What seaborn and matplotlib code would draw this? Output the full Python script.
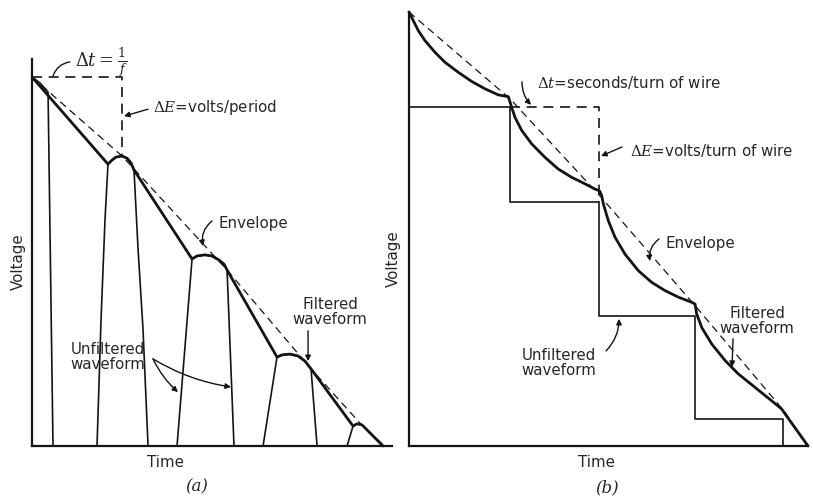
import seaborn as sns
import matplotlib.pyplot as plt

# (a) rectified pulses + capacitor filter; time in periods, voltage relative to peak
filt_a_t = [0.0, 0.844, 0.889, 0.933, 1.0, 1.056, 1.1, 1.133, 1.778, 1.833, 1.922, 2.0, 2.078,
            2.133, 2.167, 2.722, 2.778, 2.867, 2.956, 3.033, 3.1, 3.567, 3.611, 3.667, 3.9]
filt_a_v = [1.0, 0.764, 0.775, 0.783, 0.786, 0.780, 0.767, 0.748, 0.507, 0.515, 0.518, 0.515, 0.504,
            0.493, 0.477, 0.241, 0.247, 0.249, 0.244, 0.230, 0.209, 0.054, 0.060, 0.057, 0.0]
pulses_a_t = [
    [0.0, 0.089, 0.178, 0.233],
    [0.722, 0.767, 0.811, 0.844, 0.889, 0.933, 1.0, 1.056, 1.1, 1.133, 1.178, 1.233, 1.289],
    [1.611, 1.778, 1.833, 1.922, 2.0, 2.078, 2.133, 2.167, 2.244],
    [2.567, 2.722, 2.778, 2.867, 2.956, 3.033, 3.1, 3.167],
    [3.5, 3.567, 3.611, 3.667, 3.9],
]
pulses_a_v = [
    [1.0, 0.984, 0.959, 0.0],
    [0.0, 0.344, 0.615, 0.764, 0.775, 0.783, 0.786, 0.780, 0.767, 0.748, 0.534, 0.317, 0.0],
    [0.0, 0.507, 0.515, 0.518, 0.515, 0.504, 0.493, 0.477, 0.0],
    [0.0, 0.241, 0.247, 0.249, 0.244, 0.230, 0.209, 0.0],
    [0.0, 0.054, 0.060, 0.057, 0.0],
]
env_a_t = [0.0, 1.0, 2.167, 3.1, 3.644, 3.911]
env_a_v = [1.0, 0.786, 0.477, 0.209, 0.062, 0.0]
dt_a_t = [0.0, 1.0, 1.0]
dt_a_v = [1.0, 1.0, 0.786]

# (b) stepped (turn-by-turn) waveform; time in step units, voltage relative to peak
steps_b_t = [0.0, 1.01, 1.01, 1.90, 1.90, 2.86, 2.86, 3.74, 3.74]
steps_b_v = [0.781, 0.781, 0.562, 0.562, 0.300, 0.300, 0.062, 0.062, 0.0]
filt_b_t = [0.0, 0.043, 0.093, 0.16, 0.26, 0.36, 0.493, 0.627, 0.76, 0.893, 0.993,
            1.027, 1.06, 1.127, 1.227, 1.36, 1.493, 1.627, 1.76, 1.86, 1.905,
            1.927, 1.943, 1.993, 2.06, 2.16, 2.293, 2.427, 2.56, 2.693, 2.827, 2.86,
            2.877, 2.927, 3.027, 3.16, 3.293, 3.46, 3.627, 3.727, 3.76, 3.99]
filt_b_v = [1.0, 0.980, 0.957, 0.934, 0.907, 0.884, 0.861, 0.840, 0.823, 0.809, 0.805,
            0.780, 0.757, 0.727, 0.696, 0.665, 0.638, 0.619, 0.604, 0.592, 0.588,
            0.577, 0.558, 0.519, 0.481, 0.442, 0.404, 0.377, 0.358, 0.343, 0.331, 0.327,
            0.304, 0.273, 0.235, 0.197, 0.166, 0.135, 0.104, 0.085, 0.074, 0.0]
env_b_t = [0.0, 1.01, 1.91, 2.88, 3.76, 3.98]
env_b_v = [1.0, 0.800, 0.576, 0.318, 0.078, 0.0]
dt_b_t = [1.01, 1.90, 1.90]
dt_b_v = [0.781, 0.781, 0.562]

INK = '#141414'
FS = 10.8

sns.set_style('white')
plt.rcParams['font.family'] = ['DejaVu Sans']
plt.rcParams['mathtext.fontset'] = 'dejavuserif'

fig = plt.figure(figsize=(8.13, 5.02), dpi=100)
ax_a = fig.add_axes([0.0394, 0.1096, 0.4428, 0.7709])
ax_b = fig.add_axes([0.5031, 0.1096, 0.4908, 0.8645])


def line(ax, t, v, lw, ls='-'):
    sns.lineplot(x=t, y=v, ax=ax, sort=False, estimator=None, color=INK,
                 lw=lw, linestyle=ls, clip_on=False, solid_joinstyle='round')


def arrow(ax, start, end, rad=0.0, head=True):
    ax.annotate('', xy=end, xytext=start,
                arrowprops=dict(arrowstyle='-|>' if head else '-', lw=1.0, color=INK,
                                mutation_scale=8, shrinkA=0, shrinkB=0,
                                connectionstyle=f'arc3,rad={rad}'))


for ax in (ax_a, ax_b):
    ax.set_xticks([])
    ax.set_yticks([])
    sns.despine(ax=ax)
    for s in ('left', 'bottom'):
        ax.spines[s].set_linewidth(1.6)
        ax.spines[s].set_color(INK)

# ---- panel (a)
ax_a.set_xlim(0, 4.0)
ax_a.set_ylim(0, 1.049)
for t, v in zip(pulses_a_t, pulses_a_v):
    line(ax_a, t, v, 1.2)
line(ax_a, filt_a_t, filt_a_v, 2.0)
line(ax_a, env_a_t, env_a_v, 0.9, (0, (6, 4)))
line(ax_a, dt_a_t, dt_a_v, 1.2, (0, (6, 4)))

ax_a.text(0.478, 1.041, r'$\Delta t=\frac{1}{f}$', fontsize=13, va='center', ha='left')
arrow(ax_a, (0.42, 1.041), (0.233, 1.003), rad=0.3, head=False)
ax_a.text(1.344, 0.919, r'$\Delta E$=volts/period', fontsize=FS, va='center', ha='left')
arrow(ax_a, (1.289, 0.913), (1.022, 0.894))
ax_a.text(2.067, 0.607, 'Envelope', fontsize=FS, va='center', ha='left')
arrow(ax_a, (2.0, 0.610), (1.9, 0.542), rad=0.3)
ax_a.text(3.311, 0.366, 'Filtered\nwaveform', fontsize=FS, va='center', ha='center', linespacing=1.0)
arrow(ax_a, (3.067, 0.312), (3.067, 0.230))
ax_a.text(0.844, 0.244, 'Unfiltered\nwaveform', fontsize=FS, va='center', ha='center', linespacing=1.0)
arrow(ax_a, (1.344, 0.236), (1.622, 0.146), rad=0.1)
arrow(ax_a, (1.344, 0.236), (2.211, 0.160), rad=0.1)
ax_a.text(1.478, -0.041, 'Time', fontsize=FS, va='center', ha='center')
arrow(ax_a, (1.756, -0.049), (2.311, -0.049))
ax_a.text(1.833, -0.108, '(a)', fontsize=12, va='center', ha='center',
          family='DejaVu Serif', style='italic')
ax_a.text(-0.156, 0.501, 'Voltage', fontsize=FS, rotation=90, va='center', ha='center')
arrow(ax_a, (-0.133, 0.629), (-0.133, 0.764))

# ---- panel (b)
ax_b.set_xlim(0, 3.99)
ax_b.set_ylim(0, 1.0)
line(ax_b, steps_b_t, steps_b_v, 1.2)
line(ax_b, filt_b_t, filt_b_v, 2.0)
line(ax_b, env_b_t, env_b_v, 0.9, (0, (6, 4)))
line(ax_b, dt_b_t, dt_b_v, 1.2, (0, (6, 4)))

ax_b.text(1.28, 0.841, r'$\Delta t$=seconds/turn of wire', fontsize=FS, va='center', ha='left')
arrow(ax_b, (1.13, 0.839), (1.22, 0.786), rad=0.2)
ax_b.text(2.21, 0.684, r'$\Delta E$=volts/turn of wire', fontsize=FS, va='center', ha='left')
arrow(ax_b, (2.13, 0.689), (1.92, 0.668))
ax_b.text(2.56, 0.468, 'Envelope', fontsize=FS, va='center', ha='left')
arrow(ax_b, (2.5, 0.477), (2.41, 0.426), rad=0.3)
ax_b.text(3.48, 0.290, 'Filtered\nwaveform', fontsize=FS, va='center', ha='center', linespacing=1.0)
arrow(ax_b, (3.24, 0.247), (3.23, 0.182))
ax_b.text(1.5, 0.194, 'Unfiltered\nwaveform', fontsize=FS, va='center', ha='center', linespacing=1.0)
arrow(ax_b, (1.97, 0.219), (2.10, 0.293), rad=0.2)
ax_b.text(1.87, -0.035, 'Time', fontsize=FS, va='center', ha='center')
arrow(ax_b, (2.11, -0.044), (2.61, -0.044))
ax_b.text(1.98, -0.094, '(b)', fontsize=12, va='center', ha='center',
          family='DejaVu Serif', style='italic')
ax_b.text(-0.16, 0.435, 'Voltage', fontsize=FS, rotation=90, va='center', ha='center')
arrow(ax_b, (-0.12, 0.535), (-0.12, 0.638))

fig.savefig('out.png', dpi=100, facecolor='white')
